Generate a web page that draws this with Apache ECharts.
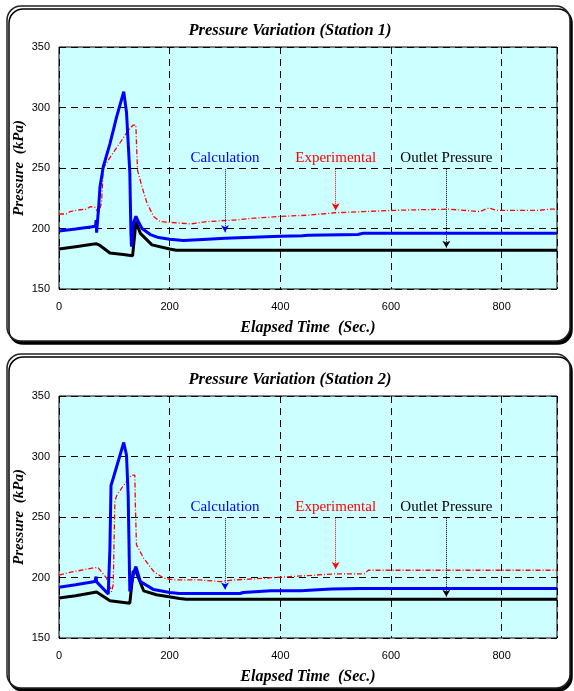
<!DOCTYPE html>
<html lang="en">
<head>
    <meta charset="UTF-8">
    <title>Pressure Variation</title>
    <script type="text/javascript" src="https://cdn.jsdelivr.net/npm/echarts@6/dist/echarts.min.js"></script>
    <style>
        html, body { margin: 0; padding: 0; background: #fff; }
    </style>
</head>
<body>
    <div id="main" style="width: 574px;height:691px;"></div>
    <script type="text/javascript">

        // station 1 : [time (s), pressure (kPa)]
        var calc1 = [[0,198],[30,199.5],[60,201.5],[66,202],[67,207],[68,196.5],[71,197],[72,220],[74,234],[80,251],
            [92,270],[104,292],[117,313],[122,296],[128,246],[130,196],[131,185],[134,204],[139,210],[143,206],
            [150,200],[165,195],[180,192.5],[200,191.2],[225,190],[260,191],[300,192],[400,193.5],[440,194],
            [450,194.5],[540,195],[550,196],[600,196],[900,196]];
        var exp1 = [[0,212],[13,212],[20,214],[38,215.5],[50,216],[56,218],[65,217.5],[72,212.5],[74,211],[77,222],
            [80,250],[89,256.5],[100,264],[115,274],[125,281],[134,285.5],[139,285.5],[140,270],[142,248],[150,234.5],
            [159,221],[171,210],[183,205.7],[203,205],[238,203.8],[268,205.7],[316,207],[353,208.5],[400,210],
            [450,211],[498,213],[550,214],[607,215],[650,215.5],[704,216],[760,214],[777,217],[790,215],[868,215],
            [886,216],[900,216]];
        var out1 = [[0,183],[30,185],[60,187],[68,187.3],[74,186],[92,179.7],[116,178.5],[133,177.4],[137,196],
            [139,205.7],[147,196],[168,186.5],[200,183],[212,182],[900,182]];

        // station 2
        var calc2 = [[0,192],[30,194],[65,196.7],[67,200.8],[68,196.4],[89,186.3],[92,224],[94,276],[98,282],
            [117,311.6],[122,301],[125,268],[128,188.4],[131,186.8],[135,204],[139,209],[147,196.7],[171,190],
            [200,187.6],[218,186.8],[327,186.8],[333,187.6],[383,189],[437,189],[492,190.4],[546,191],[900,191]];
        var exp2 = [[0,202],[13,203.6],[40,206],[65,208.2],[71,208],[86,199.5],[95,188.4],[98,194],[101,262.6],
            [104,267.5],[115,275],[125,281],[131,284.6],[137,284.6],[138,260],[140,227],[153,216],[171,205],
            [189,199.5],[207,198],[255,198],[291,196.6],[316,198],[358,199],[401,200.3],[450,201.6],[498,203],
            [552,203],[559,206],[700,206],[900,206]];
        var out2 = [[0,183],[30,185],[68,188],[92,180.7],[128,178.8],[134,205],[139,205],[153,189],[176,185.7],
            [207,183.5],[218,182.6],[230,182],[900,182]];

        var xTicks = { min: 0, max: 900, interval: 200 };
        var yTicks = { min: 150, max: 350, interval: 50 };

        // annotation texts / arrows: [label, x, text y, arrow from, arrow to]
        var notes1 = [['Calculation', 300, 258, 249, 197], ['Experimental', 500, 258, 249, 215], ['Outlet Pressure', 700, 258, 249, 184]];
        var notes2 = [['Calculation', 300, 258, 249, 190], ['Experimental', 500, 258, 249, 207], ['Outlet Pressure', 700, 258, 249, 184]];

        var serif = '"Liberation Serif", "Times New Roman", serif';
        var sans = '"Liberation Sans", Arial, sans-serif';

        var myChart = echarts.init(document.getElementById('main'));

        function xAxisFor(i) {
            return {
                gridIndex: i, type: 'value', min: xTicks.min, max: xTicks.max, interval: xTicks.interval,
                name: 'Elapsed Time  (Sec.)', nameLocation: 'middle', nameGap: 31,
                nameTextStyle: { fontFamily: serif, fontStyle: 'italic', fontWeight: 'bold', fontSize: 16, color: '#000' },
                axisLine: { show: false }, axisTick: { show: false },
                axisLabel: { fontFamily: sans, fontSize: 11, color: '#000', margin: 12, showMaxLabel: false },
                splitLine: { show: true, lineStyle: { color: '#000', type: [7, 5], width: 1 } }
            };
        }
        function yAxisFor(i) {
            return {
                gridIndex: i, type: 'value', min: yTicks.min, max: yTicks.max, interval: yTicks.interval,
                name: 'Pressure  (kPa)', nameLocation: 'middle', nameGap: 32, nameRotate: 90, nameMoveOverlap: false,
                nameTextStyle: { fontFamily: serif, fontStyle: 'italic', fontWeight: 'bold', fontSize: 15, color: '#000' },
                axisLine: { show: false }, axisTick: { show: false },
                axisLabel: { fontFamily: sans, fontSize: 11, color: '#000', margin: 9 },
                splitLine: { show: true, lineStyle: { color: '#000', type: [7, 5], width: 1 } }
            };
        }

        var noteColors = ['#0000ff', '#ff0000', '#000'];
        function noteLines(notes) {
            return notes.map(function (n, k) {
                return [{ coord: [n[1], n[3]], lineStyle: { color: noteColors[k] } },
                        { coord: [n[1], n[4]] }];
            });
        }
        function notePoints(notes) {
            return notes.map(function (n, k) {
                return { coord: [n[1], n[2]], value: n[0], label: { color: noteColors[k] } };
            });
        }

        function seriesFor(i, calc, exp, out, notes) {
            return [
                {
                    name: 'Outlet Pressure', type: 'line', xAxisIndex: i, yAxisIndex: i, data: out,
                    showSymbol: false, lineStyle: { color: '#000', width: 3 }, z: 3
                },
                {
                    name: 'Experimental', type: 'line', xAxisIndex: i, yAxisIndex: i, data: exp,
                    showSymbol: false, lineStyle: { color: '#ff0000', width: 1.3, type: [5, 2, 1, 2] }, z: 4
                },
                {
                    name: 'Calculation', type: 'line', xAxisIndex: i, yAxisIndex: i, data: calc,
                    showSymbol: false, lineStyle: { color: '#0000ff', width: 3 }, z: 5,
                    markLine: {
                        silent: true, symbol: ['none', 'arrow'], symbolSize: [6, 7],
                        label: { show: false },
                        lineStyle: { type: 'dotted', width: 1 },
                        data: noteLines(notes)
                    },
                    markPoint: {
                        silent: true, symbol: 'rect', symbolSize: 1,
                        itemStyle: { color: 'rgba(0,0,0,0)' },
                        label: { show: true, position: 'inside', formatter: '{c}', fontFamily: serif, fontSize: 15 },
                        data: notePoints(notes)
                    }
                }
            ];
        }

        var titleStyle = { fontFamily: serif, fontStyle: 'italic', fontWeight: 'bold', fontSize: 16.5, color: '#000' };
        var frameStyle = { fill: '#fff', stroke: '#222', lineWidth: 1.5, shadowColor: '#000', shadowOffsetX: 2, shadowOffsetY: 3 };

        var option = {
            animation: false,
            backgroundColor: '#fff',
            title: [
                { text: 'Pressure Variation (Station 1)', left: 285, top: 17, textAlign: 'center', textStyle: titleStyle },
                { text: 'Pressure Variation (Station 2)', left: 285, top: 366, textAlign: 'center', textStyle: titleStyle }
            ],
            graphic: [
                { type: 'rect', z: -10, shape: { x: 7, y: 6, width: 563, height: 335, r: 14 }, style: frameStyle },
                { type: 'rect', z: -10, shape: { x: 7, y: 354, width: 563, height: 334, r: 14 }, style: frameStyle }
            ],
            grid: [
                { left: 59, top: 47, width: 498, height: 242, show: true, backgroundColor: '#ccffff', borderColor: '#000', borderWidth: 1 },
                { left: 59, top: 396, width: 498, height: 242, show: true, backgroundColor: '#ccffff', borderColor: '#000', borderWidth: 1 }
            ],
            xAxis: [xAxisFor(0), xAxisFor(1)],
            yAxis: [yAxisFor(0), yAxisFor(1)],
            series: seriesFor(0, calc1, exp1, out1, notes1).concat(seriesFor(1, calc2, exp2, out2, notes2))
        };

        myChart.setOption(option);
    </script>
</body>
</html>
